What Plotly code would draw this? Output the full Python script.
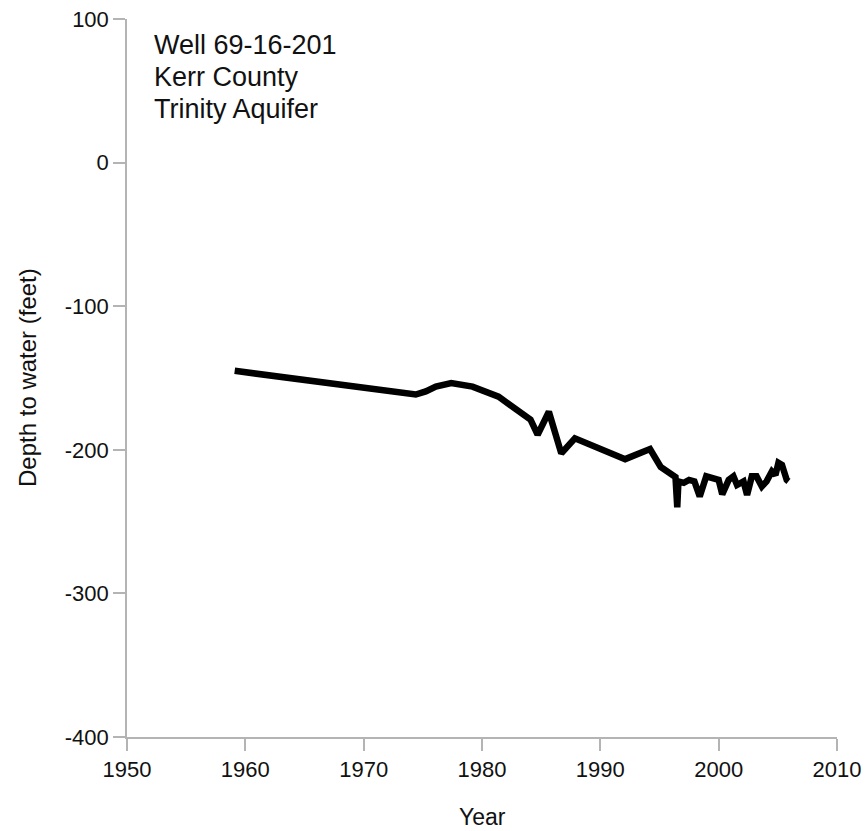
import plotly.graph_objects as go

years = [1959.1, 1974.4, 1975.25, 1976.1, 1977.4, 1979.2, 1981.4, 1983.1, 1984.1, 1984.7,
         1985.65, 1986.7, 1987.85, 1992.1, 1994.2, 1995.1, 1996.35, 1996.5, 1996.6, 1997.05,
         1997.5, 1997.95, 1998.4, 1998.95, 1999.6, 2000.0, 2000.3, 2000.85, 2001.25, 2001.55,
         2002.1, 2002.4, 2002.8, 2003.2, 2003.65, 2004.05, 2004.5, 2004.8, 2005.05, 2005.35,
         2005.75, 2005.9]
depth = [-145, -161.5, -159.3, -155.9, -153.5, -156, -163, -173, -179, -189.5,
         -173.5, -202.5, -192, -206.5, -199.5, -212, -219, -240, -222, -223,
         -221, -222, -232.5, -218.5, -219.5, -221, -231, -221, -218.5, -224.5,
         -222, -231.5, -218.5, -218.5, -225.5, -222, -215, -217.5, -209, -210.5,
         -221, -222]

x_ticks = [1950, 1960, 1970, 1980, 1990, 2000, 2010]
y_ticks = [100, 0, -100, -200, -300, -400]
label_lines = ["Well 69-16-201", "Kerr County", "Trinity Aquifer"]
label_y = [82, 59.5, 37.5]

FONT = "Liberation Sans, Arial, sans-serif"
TXT = "#111111"

fig = go.Figure()
fig.add_trace(go.Scatter(x=years, y=depth, mode="lines",
                         line=dict(color="black", width=6.5), hoverinfo="skip",
                         showlegend=False, cliponaxis=False))

axis_common = dict(showgrid=False, zeroline=False, showline=True, linecolor="#b4b4b4",
                   linewidth=1.5, ticks="outside", ticklen=12, tickcolor="#b4b4b4",
                   tickwidth=1.5, automargin=False,
                   tickfont=dict(family=FONT, size=22, color=TXT))

fig.update_xaxes(range=[1950, 2010], tickvals=x_ticks, ticktext=[str(v) for v in x_ticks],
                 **axis_common)
fig.update_yaxes(range=[-400, 100], tickvals=y_ticks, ticktext=[str(v) for v in y_ticks],
                 **axis_common)

annotations = []
for txt, yy in zip(label_lines, label_y):
    annotations.append(dict(x=1952.1, y=yy, xref="x", yref="y", text=txt, showarrow=False,
                            xanchor="left", yanchor="middle",
                            font=dict(family=FONT, size=27, color=TXT)))
annotations.append(dict(x=0.5, y=0, xref="paper", yref="paper", text="Year", showarrow=False,
                        xanchor="center", yanchor="middle", yshift=-80,
                        font=dict(family=FONT, size=23, color=TXT)))
annotations.append(dict(x=0, y=0.5, xref="paper", yref="paper", text="Depth to water (feet)",
                        showarrow=False, xanchor="center", yanchor="middle", xshift=-100,
                        textangle=-90, font=dict(family=FONT, size=24, color=TXT)))

fig.update_layout(width=867, height=831, margin=dict(l=127, r=30, t=19, b=94,
                                                     autoexpand=False),
                  plot_bgcolor="white", paper_bgcolor="white", annotations=annotations)

fig.write_html("out.html")
